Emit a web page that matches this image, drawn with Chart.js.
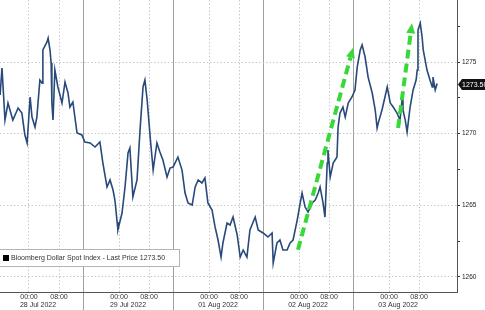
<!DOCTYPE html>
<html>
<head>
<meta charset="utf-8">
<script src="https://cdn.jsdelivr.net/npm/chart.js@4.4.0/dist/chart.umd.min.js"></script>
<style>
body { margin: 0; background: #fff; }
</style>
</head>
<body>
<canvas id="myChart" width="485" height="310"></canvas>
<script>
// position on the session axis, in hours (weekend removed, each day block = 24h)
var hours = [
	1.9, 2.4, 3.2, 4.0, 5.3, 6.7, 7.7, 8.5, 9.1, 9.9,
	10.4, 11.2, 11.7, 12.5, 13.1, 13.3, 14.4, 14.7, 15.2, 15.5,
	15.7, 16.0, 16.5, 17.3, 18.4, 19.2, 20.0, 20.5, 21.3, 22.4,
	23.7, 24.5, 25.9, 27.2, 28.5, 29.3, 30.4, 31.2, 32.0, 32.5,
	33.1, 33.3, 34.4, 35.2, 36.0, 36.5, 37.3, 38.4, 39.2, 40.0,
	40.5, 41.1, 41.9, 42.7, 43.7, 44.5, 45.3, 46.4, 47.2, 48.0,
	49.3, 50.4, 51.2, 52.0, 53.1, 53.9, 54.7, 55.7, 56.5, 57.3,
	58.4, 59.2, 60.0, 60.8, 61.3, 62.4, 63.2, 64.0, 65.1, 65.9,
	66.7, 67.7, 68.5, 69.9, 70.7, 72.0, 73.3, 74.4, 74.7, 75.7,
	76.5, 77.3, 78.4, 79.2, 80.0, 81.1, 81.9, 82.4, 83.2, 84.0,
	85.1, 85.9, 86.7, 87.2, 88.0, 88.5, 89.1, 89.3, 89.9, 90.7,
	91.7, 92.0, 92.5, 93.3, 93.9, 94.7, 95.7, 96.5, 97.1, 97.9,
	98.4, 99.2, 100.0, 101.1, 101.9, 102.4, 102.7, 103.7, 104.5, 105.1,
	105.9, 106.7, 107.7, 108.5, 109.1, 109.3, 109.9, 110.4, 111.2, 112.0,
	112.8, 113.1, 113.3, 113.9, 114.4, 114.7, 115.7, 116.5, 117.1, 117.3,
	117.9, 118.4
];
var prices = [
	1272.70, 1274.58, 1270.95, 1272.14, 1270.95, 1271.79, 1271.44, 1269.91, 1269.35, 1272.56,
	1271.16, 1270.46, 1271.16, 1273.74, 1273.53, 1275.84, 1276.40, 1276.67, 1275.84, 1274.93,
	1272.14, 1270.95, 1274.44, 1273.26, 1272.14, 1273.60, 1272.84, 1271.86, 1272.21, 1270.05,
	1269.91, 1269.42, 1269.35, 1269.07, 1269.42, 1267.95, 1266.28, 1266.77, 1266.07, 1265.37,
	1263.83, 1263.28, 1264.46, 1266.28, 1268.65, 1269.00, 1265.58, 1266.77, 1270.25, 1273.26,
	1273.74, 1272.35, 1269.77, 1267.46, 1269.35, 1268.72, 1268.16, 1266.97, 1267.60, 1267.67,
	1268.37, 1267.46, 1265.86, 1265.16, 1265.02, 1266.28, 1266.77, 1266.56, 1266.91, 1265.16,
	1264.67, 1263.49, 1262.58, 1261.39, 1262.37, 1263.76, 1263.63, 1264.18, 1262.93, 1261.39,
	1261.88, 1261.39, 1263.28, 1264.18, 1263.28, 1263.07, 1262.79, 1263.07, 1260.97, 1262.37,
	1262.58, 1261.88, 1261.88, 1262.37, 1262.58, 1263.97, 1265.16, 1265.86, 1264.88, 1264.53,
	1265.16, 1265.37, 1265.86, 1266.28, 1265.16, 1264.18, 1267.95, 1268.86, 1266.97, 1267.95,
	1268.37, 1270.46, 1271.44, 1271.86, 1271.16, 1272.14, 1272.56, 1273.05, 1274.65, 1275.84,
	1276.19, 1275.35, 1273.95, 1272.84, 1271.65, 1270.39, 1270.74, 1271.65, 1272.56, 1273.26,
	1272.14, 1271.86, 1271.44, 1270.95, 1272.49, 1271.65, 1270.95, 1270.12, 1271.86, 1273.05,
	1273.74, 1274.44, 1277.23, 1277.72, 1276.74, 1275.84, 1274.44, 1273.74, 1273.26, 1273.95,
	1273.05, 1273.50
];
var dayLabels = ['28 Jul 2022', '29 Jul 2022', '01 Aug 2022', '02 Aug 2022', '03 Aug 2022'];
var timeLabels = ['00:00', '08:00'];
var yTicks = [1260, 1262.5, 1265, 1267.5, 1270, 1272.5, 1275, 1277.5];
var lastPrice = 1273.50;
var seriesName = 'Bloomberg Dollar Spot Index - Last Price';

// green arrows drawn on top, in data units [hour, price]
var arrows = [
	{ from: [81.3, 1261.9], to: [96.0, 1276.0] },
	{ from: [108.0, 1270.4], to: [111.7, 1277.7] }
];

var FONT = "'Liberation Sans', Arial, sans-serif";
var DAY = 24, T00 = 9.6, T08 = 17.6;

function dayPos(v) { return ((v % DAY) + DAY) % DAY; }
function isSep(v) { return Math.abs(dayPos(v)) < 0.01 || Math.abs(dayPos(v) - DAY) < 0.01; }

var extras = {
	id: 'extras',
	afterDatasetsDraw: function(chart) {
		var ctx = chart.ctx, xs = chart.scales.x, ys = chart.scales.y;
		// arrows
		ctx.save();
		arrows.forEach(function(a) {
			var x1 = xs.getPixelForValue(a.from[0]), y1 = ys.getPixelForValue(a.from[1]);
			var x2 = xs.getPixelForValue(a.to[0]), y2 = ys.getPixelForValue(a.to[1]);
			var ang = Math.atan2(y2 - y1, x2 - x1);
			var hl = 10, hw = 4.5;
			var bx = x2 - hl * Math.cos(ang), by = y2 - hl * Math.sin(ang);
			ctx.strokeStyle = '#38d838';
			ctx.lineWidth = 4;
			ctx.setLineDash([9, 5]);
			ctx.beginPath();
			ctx.moveTo(x1, y1);
			ctx.lineTo(bx, by);
			ctx.stroke();
			ctx.setLineDash([]);
			ctx.fillStyle = '#38d838';
			ctx.beginPath();
			ctx.moveTo(x2, y2);
			ctx.lineTo(bx + hw * Math.sin(ang), by - hw * Math.cos(ang));
			ctx.lineTo(bx - hw * Math.sin(ang), by + hw * Math.cos(ang));
			ctx.closePath();
			ctx.fill();
		});
		ctx.restore();

		// legend box
		ctx.save();
		ctx.fillStyle = '#fff';
		ctx.fillRect(-1, 249, 181, 18);
		ctx.strokeStyle = '#b4b4b4';
		ctx.lineWidth = 1;
		ctx.strokeRect(-0.5, 249.5, 180, 17);
		ctx.fillStyle = '#000';
		ctx.fillRect(3, 255, 6, 6);
		ctx.fillStyle = '#333';
		ctx.font = '7px ' + FONT;
		ctx.textBaseline = 'middle';
		ctx.fillText(seriesName + ' ' + lastPrice.toFixed(2), 11, 258.5);
		ctx.restore();
	},
	afterDraw: function(chart) {
		var ctx = chart.ctx, ys = chart.scales.y;
		var y = Math.round(ys.getPixelForValue(lastPrice)) + 0.5;
		var x = chart.chartArea.right;
		ctx.save();
		ctx.fillStyle = '#111';
		ctx.beginPath();
		ctx.moveTo(x + 1, y);
		ctx.lineTo(x + 5, y - 5.5);
		ctx.lineTo(chart.width, y - 5.5);
		ctx.lineTo(chart.width, y + 5.5);
		ctx.lineTo(x + 5, y + 5.5);
		ctx.closePath();
		ctx.fill();
		ctx.fillStyle = '#fff';
		ctx.font = '7px ' + FONT;
		ctx.textBaseline = 'middle';
		ctx.fillText(lastPrice.toFixed(2), x + 5, y + 0.5);
		ctx.restore();
	}
};

var config = {
	type: 'line',
	data: {
		datasets: [{
			label: seriesName,
			data: hours.map(function(h, i) { return { x: h, y: prices[i] }; }),
			borderColor: '#28497a',
			borderWidth: 1.6,
			pointRadius: 0,
			tension: 0
		}]
	},
	options: {
		responsive: false,
		animation: false,
		devicePixelRatio: 1,
		layout: { padding: 0 },
		plugins: { legend: { display: false }, tooltip: { enabled: false } },
		scales: {
			x: {
				type: 'linear',
				position: 'bottom',
				weight: 0,
				min: 1.87,
				max: 123.7,
				afterBuildTicks: function(s) {
					var t = [];
					for (var k = 0; k < dayLabels.length; k++) {
						if (k > 0) t.push({ value: k * DAY });
						t.push({ value: k * DAY + T00 });
						t.push({ value: k * DAY + T08 });
					}
					s.ticks = t;
				},
				afterFit: function(s) { s.height = 9; s.paddingLeft = 0; s.paddingRight = 0; },
				ticks: {
					autoSkip: false, maxRotation: 0, minRotation: 0,
					padding: -17,
					font: { family: FONT, size: 7 },
					color: '#333',
					callback: function(v) {
						var r = dayPos(v);
						if (Math.abs(r - T00) < 0.01) return timeLabels[0];
						if (Math.abs(r - T08) < 0.01) return timeLabels[1];
						return '';
					}
				},
				grid: {
					color: function(c) { return c.tick && isSep(c.tick.value) ? '#a0a0a0' : '#c8c8c8'; },
					tickColor: function(c) { return c.tick && isSep(c.tick.value) ? '#a0a0a0' : 'rgba(0,0,0,0)'; },
					tickLength: 18,
					lineWidth: 1
				},
				border: {
					display: true, color: '#555', width: 1,
					dash: function(c) { return c.tick && !isSep(c.tick.value) ? [1.5, 2] : []; }
				}
			},
			x2: {
				type: 'linear',
				position: 'bottom',
				weight: 1,
				min: 1.87,
				max: 123.7,
				afterBuildTicks: function(s) {
					s.ticks = dayLabels.map(function(d, k) { return { value: k * DAY + 12 }; });
				},
				afterFit: function(s) { s.height = 9; s.paddingLeft = 0; s.paddingRight = 0; },
				ticks: {
					autoSkip: false, maxRotation: 0, minRotation: 0, padding: 0,
					font: { family: FONT, size: 7 },
					color: '#333',
					callback: function(v) { return dayLabels[Math.round((v - 12) / DAY)]; }
				},
				grid: { display: false, drawTicks: false },
				border: { display: false }
			},
			y: {
				type: 'linear',
				position: 'right',
				min: 1258.95,
				max: 1279.33,
				afterBuildTicks: function(s) {
					s.ticks = yTicks.map(function(v) { return { value: v }; });
				},
				afterFit: function(s) { s.width = 28; s.paddingTop = 0; s.paddingBottom = 0; },
				ticks: {
					padding: 2,
					font: { family: FONT, size: 6.5 },
					color: '#222',
					callback: function(v) { return v % 5 === 0 ? String(v) : ''; }
				},
				grid: {
					color: function(c) { return c.tick && c.tick.value % 5 === 0 ? '#c8c8c8' : 'rgba(0,0,0,0)'; },
					tickColor: '#333',
					tickLength: 3,
					lineWidth: 1
				},
				border: {
					display: true, color: '#555', width: 1,
					dash: function(c) { return c.tick ? [1.5, 2] : []; }
				}
			}
		}
	},
	plugins: [extras]
};

var myChart = new Chart(document.getElementById('myChart'), config);
</script>
</body>
</html>
